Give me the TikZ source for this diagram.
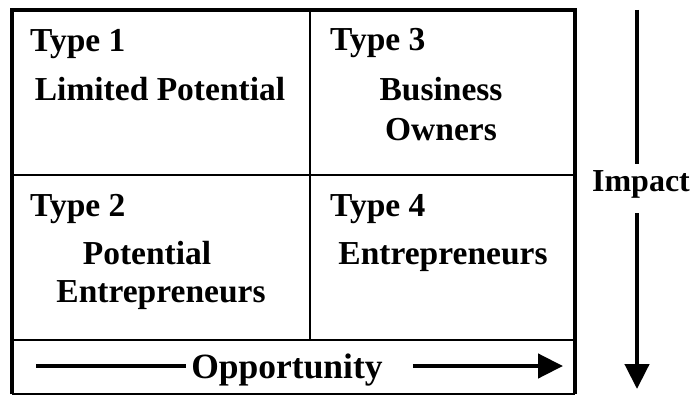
\documentclass[tikz,border=0pt]{standalone}
\usepackage{fontspec}
\setmainfont{Liberation Serif}
\usetikzlibrary{arrows.meta}

\tikzset{
  lbl/.style={font=\fontsize{33.5}{40}\selectfont\bfseries, inner sep=0pt},
  axis/.style={line width=4.5pt},
  tip/.style={-{Triangle[length=25pt,width=24pt]}},
}

\begin{document}
\begin{tikzpicture}[x=1pt,y=-1pt]
        \useasboundingbox (0,0) rectangle (695,396);

        % cell dividers
        \draw[line width=2.5pt] (12,175) -- (575,175);
        \draw[line width=2.5pt] (12,340) -- (575,340);
        \draw[line width=2pt] (310,10) -- (310,340);
        \draw[line width=2pt] (12,394) -- (575,394);
        \draw[line width=4pt, line join=miter] (12,394) -- (12,10) -- (575,10) -- (575,394);

        \node[lbl, anchor=base west] (type1) at (30,52) {Type 1};
        \node[lbl, anchor=base] (limited) at (160,100) {Limited Potential};

        \node[lbl, anchor=base west] (type3) at (330,50) {Type 3};
        \node[lbl, anchor=base] (business) at (441,100) {Business};
        \node[lbl, anchor=base] (owners) at (441,140) {Owners};

        \node[lbl, anchor=base west] (type2) at (30,216) {Type 2};
        \node[lbl, anchor=base] (potential) at (147,264) {Potential};
        \node[lbl, anchor=base] (potent) at (161,302) {Entrepreneurs};

        \node[lbl, anchor=base west] (type4) at (330,216) {Type 4};
        \node[lbl, anchor=base] (entre) at (443,264) {Entrepreneurs};

        % opportunity axis
        \coordinate (oppleft) at (36,366);
        \coordinate (oppright) at (563,366);
        \node[lbl, font=\fontsize{35.5}{40}\selectfont\bfseries, anchor=base] (opp) at (287,378) {Opportunity};
        \draw[axis] (oppleft) -- ([xshift=-5pt]oppleft -| opp.west);
        \draw[axis, tip] ([xshift=30pt]oppleft -| opp.east) -- (oppright);

        % impact axis
        \coordinate (imptop) at (637,10);
        \coordinate (impbot) at (637,389);
        \node[lbl, font=\fontsize{32}{38}\selectfont\bfseries, anchor=base] (impact) at (641,191) {Impact};
        \draw[axis] (imptop) -- ([yshift=6pt]imptop |- impact.north);
        \draw[axis, tip] ([yshift=-15pt]imptop |- impact.south) -- (impbot);
\end{tikzpicture}
\end{document}
